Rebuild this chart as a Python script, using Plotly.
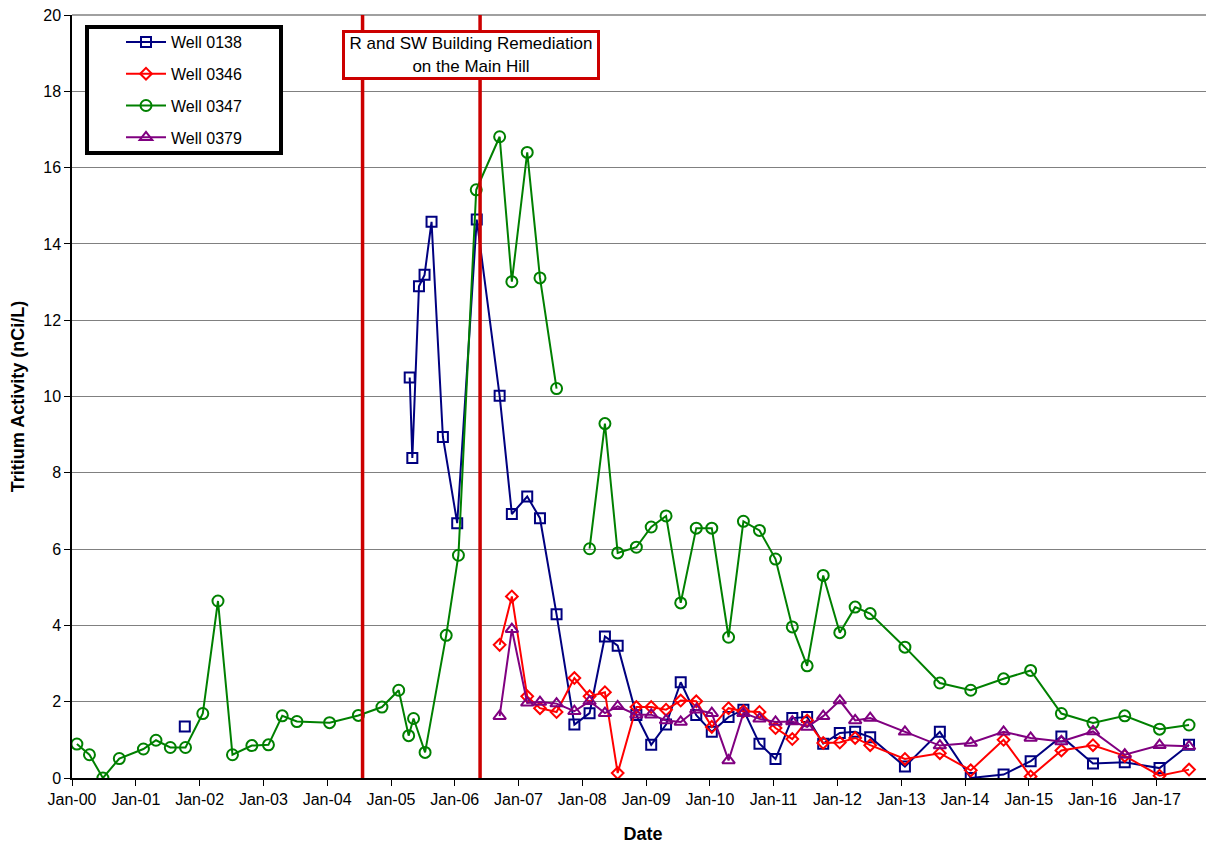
import plotly.graph_objects as go

# ---------------- data ----------------
# Sampling rounds shared by all wells from Sep-2006 onward
round_dates = [
    "2006-09-15", "2006-11-24", "2007-02-20", "2007-05-04", "2007-08-07", "2007-11-17",
    "2008-02-12", "2008-05-10", "2008-07-22", "2008-11-06", "2009-01-30", "2009-04-25",
    "2009-07-18", "2009-10-15", "2010-01-12", "2010-04-18", "2010-07-12", "2010-10-12",
    "2011-01-12", "2011-04-18", "2011-07-12", "2011-10-12", "2012-01-15", "2012-04-12",
    "2012-07-07", "2013-01-22", "2013-08-10", "2014-02-03", "2014-08-10", "2015-01-12",
    "2015-07-07", "2016-01-04", "2016-07-04", "2017-01-19", "2017-07-07",
]

# Well 0138 (blue)
w0138_early_dates = ["2001-10-08", "2003-06-01", "2005-04-18", "2005-05-03", "2005-06-10",
                     "2005-07-12", "2005-08-21", "2005-10-25", "2006-01-15", "2006-05-07"]
w0138_early_vals = [1.35, None, 10.50, 8.39, 12.89, 13.19, 14.58, 8.94, 6.68, 14.64]
w0138_round_vals = [10.02, 6.92, 7.38, 6.81, 4.29, 1.40, 1.70, 3.71, 3.47, 1.65, 0.87, 1.40,
                    2.51, 1.65, 1.21, 1.60, 1.79, 0.90, 0.50, 1.57, 1.60, 0.90, 1.18, 1.21,
                    1.07, 0.30, 1.21, 0.00, 0.09, 0.44, 1.09, 0.38, 0.41, 0.26, 0.87]

# Well 0346 (red)
w0346_round_vals = [3.49, 4.76, 2.14, 1.83, 1.73, 2.62, 2.14, 2.25, 0.13, 1.86, 1.86, 1.79,
                    2.03, 2.01, 1.34, 1.83, 1.75, 1.73, 1.31, 1.02, 1.51, 0.92, 0.93, 1.05,
                    0.86, 0.50, 0.65, 0.20, 1.00, 0.04, 0.72, 0.86, 0.58, 0.06, 0.22]

# Well 0347 (green)
w0347_early_dates = [
    "2000-01-29", "2000-04-10", "2000-06-26", "2000-09-28", "2001-02-13", "2001-04-26",
    "2001-07-17", "2001-10-12", "2002-01-19", "2002-04-16", "2002-07-08", "2002-10-27",
    "2003-01-30", "2003-04-19", "2003-07-12", "2004-01-15", "2004-06-28", "2004-11-10",
    "2005-02-14", "2005-04-12", "2005-05-10", "2005-07-15", "2005-11-13", "2006-01-22",
    "2006-05-04",
]
w0347_early_vals = [0.89, 0.61, 0.00, 0.51, 0.76, 0.99, 0.80, 0.80, 1.69, 4.64, 0.61, 0.85,
                    0.87, 1.63, 1.48, 1.45, 1.64, 1.86, 2.30, 1.11, 1.56, 0.67, 3.74, 5.84,
                    15.42]
w0347_round_vals = [16.81, 13.01, 16.40, 13.11, 10.21, None, 6.01, 9.29, 5.90, 6.05, 6.58, 6.87,
                    4.59, 6.55, 6.55, 3.69, 6.73, 6.49, 5.74, 3.96, 2.94, 5.31, 3.81, 4.48,
                    4.31, 3.43, 2.49, 2.30, 2.60, 2.82, 1.69, 1.44, 1.63, 1.28, 1.39]

# Well 0379 (purple)
w0379_round_vals = [1.62, 3.90, 1.97, 1.99, 1.95, 1.75, 2.01, 1.70, 1.88, 1.66, 1.66, 1.51,
                    1.47, 1.79, 1.70, 0.46, 1.70, 1.55, 1.47, 1.48, 1.34, 1.62, 2.03, 1.51,
                    1.57, 1.21, 0.85, 0.92, 1.21, 1.05, 0.96, 1.22, 0.61, 0.86, 0.83]

# Remediation period markers
event_dates = ["2004-07-22", "2006-05-26"]
event_label = "R and SW Building Remediation<br>on the Main Hill"

y_ticks = [0, 2, 4, 6, 8, 10, 12, 14, 16, 18, 20]
x_tick_dates = [f"{y}-01-01" for y in range(2000, 2018)]
x_tick_text = [f"Jan-{y % 100:02d}" for y in range(2000, 2018)]

# ---------------- figure ----------------
FONT = "Arial, Liberation Sans, sans-serif"
OFF = 8  # default page body margin
W, H = 1214 - OFF, 846 - OFF
ML, MR, MT, MB = 72 - OFF, 0, 15 - OFF, 68
PW, PH = W - ML - MR, H - MT - MB


def px_x(px):
    # page pixel -> paper fraction
    return (px - OFF - ML) / PW


def px_y(py):
    return (H - MB - (py - OFF)) / PH


fig = go.Figure()

series = [
    ("Well 0138", w0138_early_dates + round_dates, w0138_early_vals + w0138_round_vals,
     "#000080", "square-open", 10),
    ("Well 0346", round_dates, w0346_round_vals, "#FF0000", "diamond-open", 9),
    ("Well 0347", w0347_early_dates + round_dates, w0347_early_vals + w0347_round_vals,
     "#008000", "circle-open", 11),
    ("Well 0379", round_dates, w0379_round_vals, "#800080", "triangle-up-open", 11),
]
for i, (name, xs, ys, col, sym, sz) in enumerate(series):
    fig.add_trace(go.Scatter(
        x=xs, y=ys, name=name, mode="lines+markers", connectgaps=False,
        legendgroup=f"g{i}",
        line=dict(color=col, width=2),
        marker=dict(symbol=sym, size=sz, color=col, line=dict(color=col, width=2)),
    ))

for d in event_dates:
    fig.add_shape(type="line", xref="x", yref="paper", x0=d, x1=d, y0=0, y1=1,
                  line=dict(color="#CC0000", width=3.5), layer="above")

# top border of plot area (gridline at 20)
fig.add_shape(type="line", xref="paper", yref="paper", x0=0, x1=1, y0=1, y1=1,
              line=dict(color="#808080", width=1.5), layer="below")

# legend frame (thick black box, white fill)
fig.add_shape(type="rect", xref="paper", yref="paper",
              x0=px_x(87), x1=px_x(281), y0=px_y(153), y1=px_y(27),
              line=dict(color="black", width=4), fillcolor="white", layer="above")

fig.add_annotation(
    xref="paper", yref="paper", x=px_x(471), y=px_y(55), xanchor="center", yanchor="middle",
    text=event_label, showarrow=False, align="center",
    font=dict(family=FONT, size=17, color="black"),
    bgcolor="white", bordercolor="#CC0000", borderwidth=3, borderpad=2,
    width=248, height=40,
)

fig.update_layout(
    width=W, height=H,
    margin=dict(l=ML, r=MR, t=MT, b=MB),
    paper_bgcolor="white", plot_bgcolor="white",
    font=dict(family=FONT, size=16, color="black"),
    showlegend=True,
    legend=dict(
        x=px_x(121), y=px_y(25), xanchor="left", yanchor="top",
        bgcolor="rgba(0,0,0,0)", borderwidth=0,
        font=dict(family=FONT, size=16, color="black"),
        tracegroupgap=8, traceorder="grouped", itemwidth=40,
    ),
    xaxis=dict(
        type="date", range=["2000-01-01", "2017-11-27"], automargin=False,
        tickmode="array", tickvals=x_tick_dates, ticktext=x_tick_text,
        ticks="outside", ticklen=6, tickcolor="black", tickwidth=1,
        ticklabeloverflow="allow",
        showgrid=False, showline=True, linecolor="black", linewidth=1.5,
        tickfont=dict(family=FONT, size=16, color="black"),
        title=dict(text="<b>Date</b>", font=dict(family=FONT, size=18, color="black"),
                   standoff=20),
        zeroline=False,
    ),
    yaxis=dict(
        range=[0, 20.002], tickmode="array", tickvals=y_ticks, automargin=False,
        ticks="outside", ticklen=6, tickcolor="black", tickwidth=1,
        ticklabeloverflow="allow",
        showgrid=True, gridcolor="#808080", gridwidth=1,
        showline=True, linecolor="black", linewidth=1.5,
        tickfont=dict(family=FONT, size=16, color="black"),
        title=dict(text="<b>Tritium Activity (nCi/L)</b>",
                   font=dict(family=FONT, size=18, color="black"), standoff=14),
        zeroline=False,
    ),
)

fig.write_html("out.html")
